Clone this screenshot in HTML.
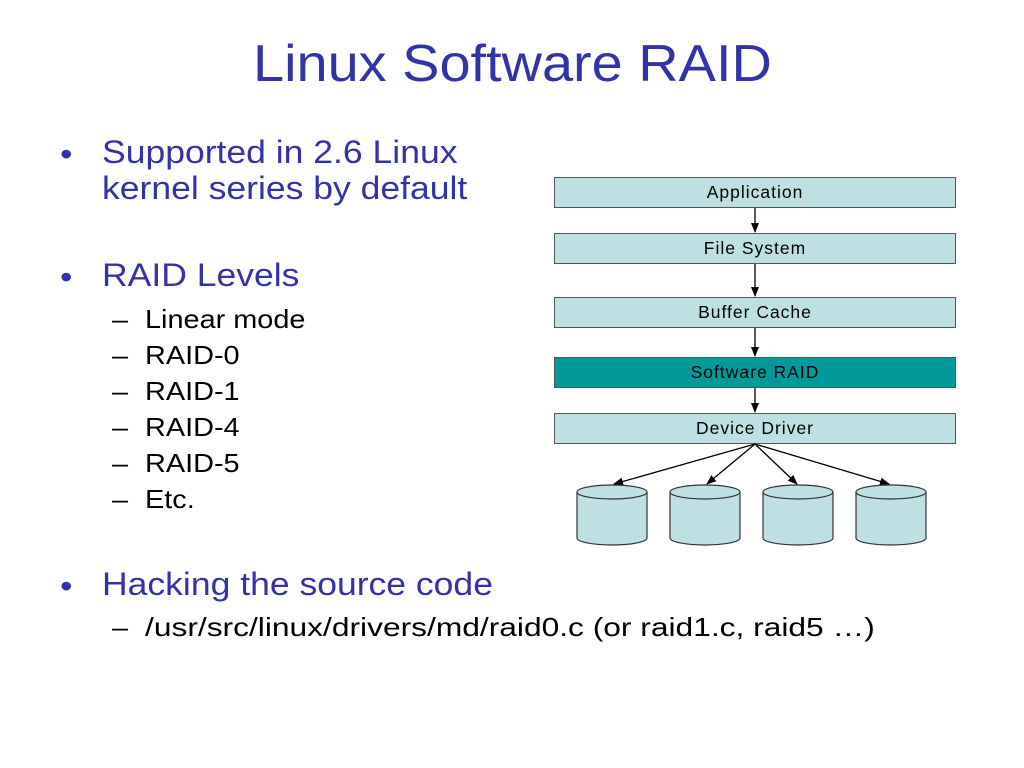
<!DOCTYPE html>
<html><head><style>
body{margin:0;width:1024px;height:768px;background:#fff;position:relative;overflow:hidden;font-family:"Liberation Sans",sans-serif;}
.t{position:absolute;white-space:nowrap;line-height:1;transform-origin:0 0;}
.b{color:#3333a8;font-size:32px;transform:scaleX(1.11);}
.s{color:#000;font-size:26px;transform:scaleX(1.11);}
.box{position:absolute;left:554px;width:400px;height:29px;border:1px solid #555;background:#bfe0e3;text-align:center;font-size:17.5px;letter-spacing:1px;line-height:29px;color:#000;}
</style></head><body>
<div class="t" style="left:253px;top:38px;font-size:52px;color:#3333a8;transform:scaleX(1.075);">Linux Software RAID</div>

<div class="t b" style="left:60px;top:138px;">•</div>
<div class="t b" style="left:102px;top:136px;">Supported in 2.6 Linux</div>
<div class="t b" style="left:102px;top:172px;">kernel series by default</div>
<div class="t b" style="left:60px;top:261px;">•</div>
<div class="t b" style="left:102px;top:259px;">RAID Levels</div>
<div class="t s" style="left:112px;top:306px;">–</div><div class="t s" style="left:145px;top:306px;">Linear mode</div>
<div class="t s" style="left:112px;top:342px;">–</div><div class="t s" style="left:145px;top:342px;">RAID-0</div>
<div class="t s" style="left:112px;top:378px;">–</div><div class="t s" style="left:145px;top:378px;">RAID-1</div>
<div class="t s" style="left:112px;top:414px;">–</div><div class="t s" style="left:145px;top:414px;">RAID-4</div>
<div class="t s" style="left:112px;top:450px;">–</div><div class="t s" style="left:145px;top:450px;">RAID-5</div>
<div class="t s" style="left:112px;top:486px;">–</div><div class="t s" style="left:145px;top:486px;">Etc.</div>
<div class="t b" style="left:60px;top:570px;">•</div>
<div class="t b" style="left:102px;top:568px;">Hacking the source code</div>
<div class="t s" style="left:112px;top:614px;">–</div><div class="t s" style="left:145px;top:614px;transform:scaleX(1.22);">/usr/src/linux/drivers/md/raid0.c (or raid1.c, raid5 …)</div>

<div class="box" style="top:177px;">Application</div>
<div class="box" style="top:233px;">File System</div>
<div class="box" style="top:297px;">Buffer Cache</div>
<div class="box" style="top:357px;background:#009999;">Software RAID</div>
<div class="box" style="top:413px;">Device Driver</div>

<svg width="1024" height="768" style="position:absolute;left:0;top:0;">
<defs><marker id="a" markerWidth="10" markerHeight="10" refX="9" refY="5" orient="auto" markerUnits="userSpaceOnUse"><path d="M0,1 L10,5 L0,9 z" fill="#000"/></marker></defs>
<g stroke="#000" stroke-width="1.3" marker-end="url(#a)">
<line x1="755" y1="208" x2="755" y2="232"/>
<line x1="755" y1="264" x2="755" y2="296"/>
<line x1="755" y1="328" x2="755" y2="356"/>
<line x1="755" y1="388" x2="755" y2="412"/>
<line x1="755" y1="444" x2="614" y2="484"/>
<line x1="755" y1="444" x2="707" y2="484"/>
<line x1="755" y1="444" x2="797" y2="484"/>
<line x1="755" y1="444" x2="889" y2="484"/>
</g>
<g fill="#bfe0e3" stroke="#333" stroke-width="1.2">
<path d="M577,492 v46 a35,7 0 0 0 70,0 v-46"/><ellipse cx="612" cy="492" rx="35" ry="7"/>
<path d="M670,492 v46 a35,7 0 0 0 70,0 v-46"/><ellipse cx="705" cy="492" rx="35" ry="7"/>
<path d="M763,492 v46 a35,7 0 0 0 70,0 v-46"/><ellipse cx="798" cy="492" rx="35" ry="7"/>
<path d="M856,492 v46 a35,7 0 0 0 70,0 v-46"/><ellipse cx="891" cy="492" rx="35" ry="7"/>
</g>
</svg>
</body></html>
